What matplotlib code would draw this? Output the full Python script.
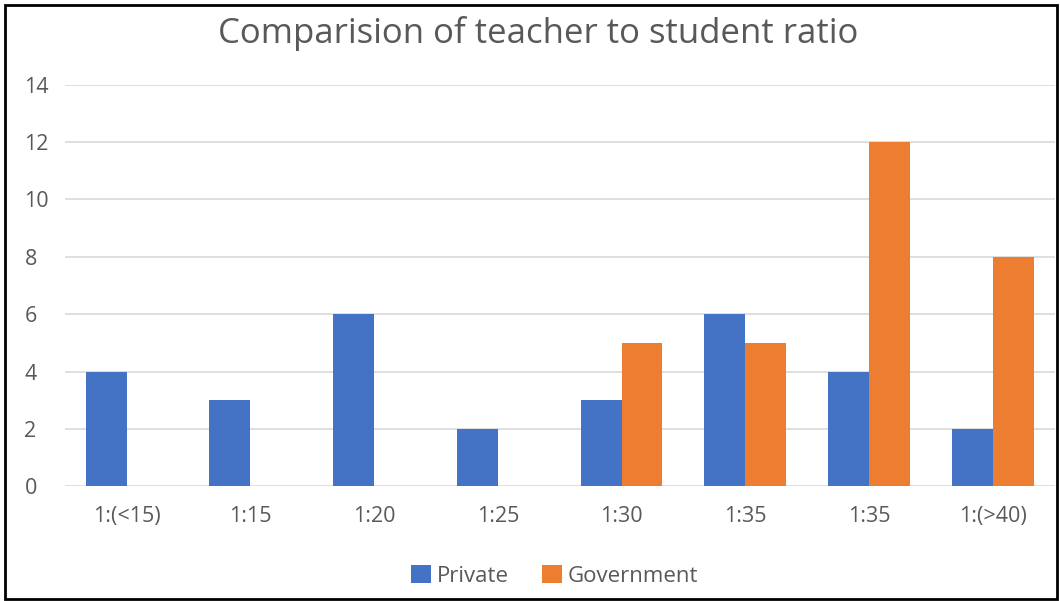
import matplotlib
matplotlib.use("Agg")
import matplotlib.pyplot as plt
import numpy as np
from matplotlib.patches import Rectangle

categories = ["1:(<15)", "1:15", "1:20", "1:25", "1:30", "1:35", "1:35", "1:(>40)"]
private = [4, 3, 6, 2, 3, 6, 4, 2]
government = [0, 0, 0, 0, 5, 5, 12, 8]
yticks = [0, 2, 4, 6, 8, 10, 12, 14]

plt.rcParams['font.family'] = ['Open Sans', 'DejaVu Sans']
text_color = '#595959'

fig = plt.figure(figsize=(10.60, 6.01), dpi=100)
ax = fig.add_axes([0.061, 0.191, 0.934, 0.668])

x = np.arange(len(categories))
w = 0.33
ax.bar(x - w/2, private, width=w, color='#4472C4', label='Private', zorder=3)
ax.bar(x + w/2, government, width=w, color='#ED7D31', label='Government', zorder=3)

ax.set_xlim(-0.5, len(categories) - 0.5)
ax.set_ylim(0, 14)
ax.set_yticks(yticks)
ax.set_xticks(x)
ax.set_xticklabels(categories)
ax.yaxis.grid(True, color='#D9D9D9', linewidth=1.2, zorder=0)
for s in ax.spines.values():
    s.set_visible(False)
ax.tick_params(axis='both', length=0, colors=text_color, labelsize=15.5)
ax.tick_params(axis='y', pad=29)
for lab in ax.get_yticklabels():
    lab.set_horizontalalignment('left')
ax.tick_params(axis='x', pad=14)

fig.text(0.508, 0.944, "Comparision of teacher to student ratio", ha='center', va='center',
         fontsize=25, color=text_color)

leg = fig.legend(loc='center', bbox_to_anchor=(0.523, 0.042), ncol=2, frameon=False,
                 fontsize=16, handlelength=0.9, handleheight=0.85, columnspacing=1.5,
                 handletextpad=0.25)
for t in leg.get_texts():
    t.set_color(text_color)

fig.patches.append(Rectangle((0.005, 0.004), 0.992, 0.988, transform=fig.transFigure,
                             fill=False, edgecolor='black', linewidth=2))

fig.savefig("out.png", dpi=100)
